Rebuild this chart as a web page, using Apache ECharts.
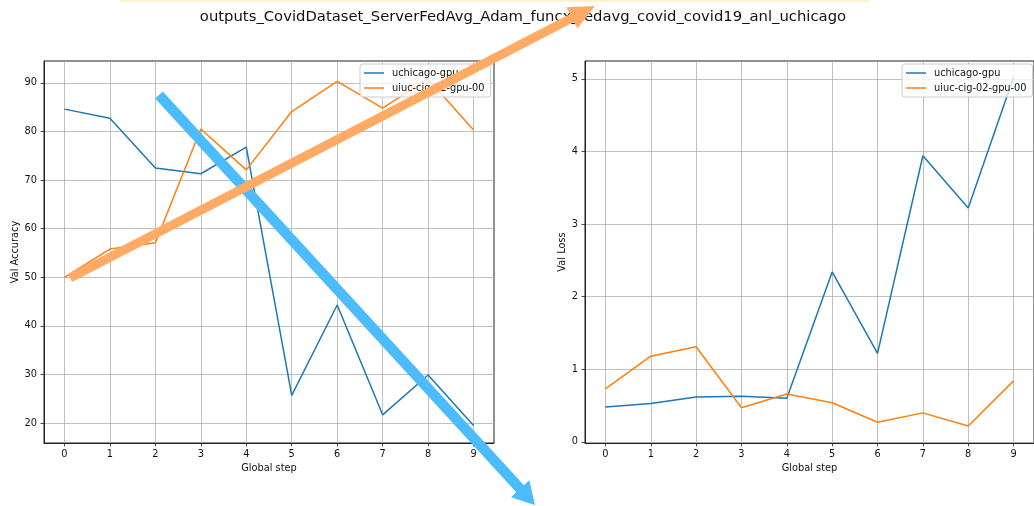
<!DOCTYPE html>
<html>
<head>
<meta charset="utf-8">
<script src="https://cdn.jsdelivr.net/npm/echarts@6/dist/echarts.min.js"></script>
<style>
  html, body { margin: 0; padding: 0; background: #ffffff; }
  #chart { width: 1034px; height: 506px; }
</style>
</head>
<body>
<div id="chart"></div>
<script>
// Validation metrics per global step for each client
const steps = [0, 1, 2, 3, 4, 5, 6, 7, 8, 9];
const seriesNames = ['uchicago-gpu', 'uiuc-cig-02-gpu-00'];
const accUchicago = [84.6, 82.7, 72.5, 71.3, 76.8, 25.7, 44.3, 21.7, 29.9, 19.5];
const accUiuc = [50.0, 55.8, 57.1, 80.5, 72.1, 84.1, 90.3, 84.8, 90.8, 80.3];
const lossUchicago = [0.48, 0.53, 0.62, 0.63, 0.60, 2.34, 1.22, 3.94, 3.22, 5.02];
const lossUiuc = [0.73, 1.18, 1.31, 0.47, 0.66, 0.54, 0.27, 0.40, 0.22, 0.84];

// Tick labels
const stepTicks = [0, 1, 2, 3, 4, 5, 6, 7, 8, 9];
const accTicks = [20, 30, 40, 50, 60, 70, 80, 90];
const lossTicks = [0, 1, 2, 3, 4, 5];

const titleText = 'outputs_CovidDataset_ServerFedAvg_Adam_funcx_fedavg_covid_covid19_anl_uchicago';

const FONT = 'DejaVu Sans';
const BLUE = '#1f77b4';
const ORANGE = '#ff7f0e';
const TEXT = '#111111';
const FS = 9.8;

const pairs = (xs, ys) => xs.map((x, i) => [x, ys[i]]);

function xAxisCfg(gridIndex) {
  return {
    type: 'value', gridIndex: gridIndex,
    min: -0.45, max: 9.45,
    name: 'Global step', nameLocation: 'middle', nameGap: 19,
    nameTextStyle: { fontFamily: FONT, fontSize: FS, color: TEXT },
    axisLine: { show: true, onZero: false, lineStyle: { color: '#222', width: 1 } },
    axisTick: { show: true, length: 3.5, customValues: stepTicks, lineStyle: { color: '#222', width: 0.8 } },
    axisLabel: { customValues: stepTicks, margin: 6, fontFamily: FONT, fontSize: FS, color: TEXT },
    splitLine: { show: true, lineStyle: { color: '#b0b0b0', width: 0.8 } }
  };
}

function yAxisCfg(gridIndex, name, min, max, ticks, gap) {
  return {
    type: 'value', gridIndex: gridIndex,
    min: min, max: max,
    name: name, nameLocation: 'middle', nameGap: gap,
    nameTextStyle: { fontFamily: FONT, fontSize: FS, color: TEXT },
    axisLine: { show: true, onZero: false, lineStyle: { color: '#222', width: 1 } },
    axisTick: { show: true, length: 3.5, customValues: ticks, lineStyle: { color: '#222', width: 0.8 } },
    axisLabel: { customValues: ticks, margin: 7, fontFamily: FONT, fontSize: FS, color: TEXT },
    splitLine: { show: true, lineStyle: { color: '#b0b0b0', width: 0.8 } }
  };
}

function legendCfg(left) {
  return {
    data: seriesNames,
    orient: 'vertical', left: left, top: 64,
    icon: 'rect', itemWidth: 20, itemHeight: 1.5, itemGap: 3,
    padding: [3, 6, 3, 4],
    backgroundColor: 'rgba(255,255,255,0.8)',
    borderColor: '#cccccc', borderWidth: 1, borderRadius: 3,
    textStyle: { fontFamily: FONT, fontSize: FS, color: TEXT, lineHeight: 12, padding: [0, 0, 0, 3] }
  };
}

function lineSeries(name, color, xi, data) {
  return {
    type: 'line', name: name, xAxisIndex: xi, yAxisIndex: xi,
    data: data, showSymbol: false, symbol: 'none',
    lineStyle: { color: color, width: 1.5 }, itemStyle: { color: color },
    z: 3
  };
}

// Annotation arrows: shaft + triangular head as one polygon
function arrowPoints(tail, tip, w, hw, hl) {
  const dx = tip[0] - tail[0], dy = tip[1] - tail[1];
  const L = Math.hypot(dx, dy);
  const ux = dx / L, uy = dy / L, nx = -uy, ny = ux;
  const bx = tip[0] - ux * hl, by = tip[1] - uy * hl;
  return [
    [tail[0] + nx * w / 2, tail[1] + ny * w / 2],
    [bx + nx * w / 2, by + ny * w / 2],
    [bx + nx * hw / 2, by + ny * hw / 2],
    tip,
    [bx - nx * hw / 2, by - ny * hw / 2],
    [bx - nx * w / 2, by - ny * w / 2],
    [tail[0] - nx * w / 2, tail[1] - ny * w / 2]
  ];
}

const arrows = [
  { tail: [159, 95], tip: [535, 505], width: 10.5, headWidth: 25, headLength: 22, color: '#4cbcff' },
  { tail: [70, 278], tip: [595, 6], width: 9, headWidth: 24, headLength: 26, color: '#ffab66' }
];

const chart = echarts.init(document.getElementById('chart'), null, { renderer: 'canvas' });

chart.setOption({
  animation: false,
  backgroundColor: '#ffffff',
  grid: [
    { left: 44, top: 61, width: 450, height: 382, show: true, borderColor: '#222', borderWidth: 1, backgroundColor: 'transparent' },
    { left: 585, top: 61, width: 450, height: 382, show: true, borderColor: '#222', borderWidth: 1, backgroundColor: 'transparent' }
  ],
  xAxis: [xAxisCfg(0), xAxisCfg(1)],
  yAxis: [
    yAxisCfg(0, 'Val Accuracy', 15.9, 94.5, accTicks, 23),
    yAxisCfg(1, 'Val Loss', -0.015, 5.245, lossTicks, 16)
  ],
  legend: [legendCfg(360), legendCfg(902)],
  series: [
    lineSeries(seriesNames[0], BLUE, 0, pairs(steps, accUchicago)),
    lineSeries(seriesNames[1], ORANGE, 0, pairs(steps, accUiuc)),
    lineSeries(seriesNames[0], BLUE, 1, pairs(steps, lossUchicago)),
    lineSeries(seriesNames[1], ORANGE, 1, pairs(steps, lossUiuc))
  ],
  graphic: [
    { type: 'rect', z: 1, shape: { x: 120, y: 0, width: 750, height: 2 }, style: { fill: '#fff3cf' } },
    {
      type: 'text', z: 10, x: 523, y: 17.3,
      style: { text: titleText, fontFamily: FONT, fontSize: 14.8, fill: TEXT, align: 'center', verticalAlign: 'middle' }
    }
  ].concat(arrows.map(a => ({
    type: 'polygon', z: 100, silent: true,
    shape: { points: arrowPoints(a.tail, a.tip, a.width, a.headWidth, a.headLength) },
    style: { fill: a.color }
  })))
});
</script>
</body>
</html>
